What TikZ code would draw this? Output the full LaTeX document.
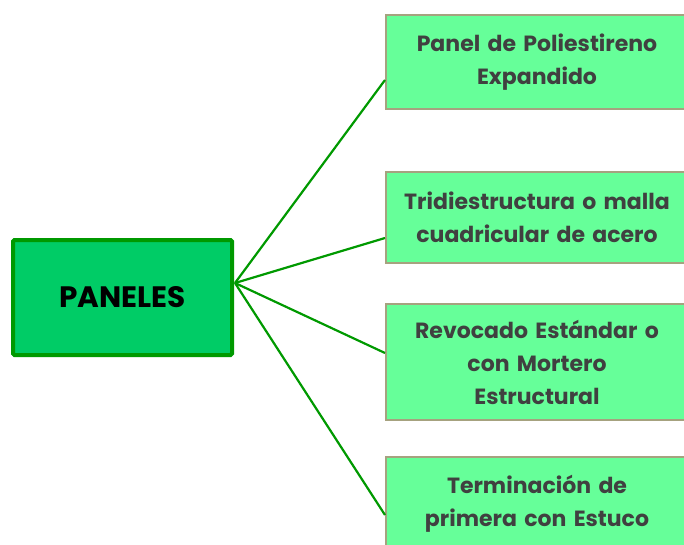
\documentclass[tikz,border=0pt]{standalone}
\usepackage{fontspec}
\setmainfont{Poppins}
\usetikzlibrary{positioning,calc}
\definecolor{hubfill}{HTML}{00CC66}
\definecolor{hubline}{HTML}{009900}
\definecolor{leaffill}{HTML}{66FF99}
\definecolor{leafline}{HTML}{A6A27F}
\definecolor{leaftext}{HTML}{404040}

\begin{document}
\begin{tikzpicture}[
x=1pt,
y=-1pt,
hub/.style={
  draw=hubline,
  fill=hubfill,
  line width=4pt,
  rounded corners=1.5pt,
  minimum width=219pt,
  minimum height=115pt,
  text=black,
  font=\bfseries\fontsize{29.5}{35}\selectfont
  },
leaf/.style={
  draw=leafline,
  fill=leaffill,
  line width=2pt,
  minimum width=302pt,
  text width=290pt,
  align=center,
  inner sep=0pt,
  text=leaftext,
  font=\bfseries\fontsize{22}{33}\selectfont
  },
link/.style={
  draw=hubline,
  line width=2.2pt
  }
]
\useasboundingbox (0,0) rectangle (684,545);
\clip (0,0) rectangle (684,545);

\node[hub] (panel) at (122.5,297.5) {PANELES};

\node[leaf,minimum height=94pt] (p1) at (537,62)
  {Panel de Poliestireno\\Expandido};
\node[leaf,minimum height=91pt] (p2) at (537,217.5)
  {Tridiestructura o malla\\cuadricular de acero};
\node[leaf,minimum height=116pt] (p3) at (537,362)
  {Revocado Estándar o\\con Mortero\\Estructural};
\node[leaf,minimum height=94pt] (p4) at (537,504)
  {Terminación de\\primera con Estuco};

\coordinate (hubout) at ($(panel.east)+(1,-14.5)$);
\foreach \i/\dy in {1/18,2/20.5,3/-9,4/11}
{
  \coordinate (end\i) at ($(p\i.west)+(0,\dy)$);
  \draw[link] (hubout) -- (end\i);
}

\end{tikzpicture}
\end{document}
